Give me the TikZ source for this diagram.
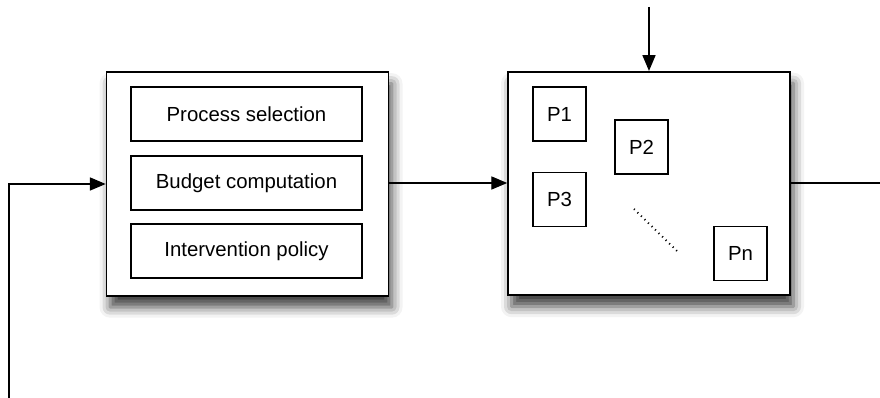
\documentclass[tikz,border=0pt]{standalone}
\usepackage{fontspec}
\setmainfont{Liberation Sans}
\usetikzlibrary{arrows.meta,shadows.blur}

\begin{document}
\begin{tikzpicture}[x=0.02cm, y=-0.02cm,
		bigbox/.style={draw, line width=1pt, fill=white, minimum width=5.64cm, minimum height=4.47cm,
			blur shadow={shadow xshift=2pt, shadow yshift=-6.5pt, shadow blur radius=6pt, shadow opacity=75}},
		partbox/.style={draw, line width=0.65pt, minimum width=4.62cm, minimum height=1.08cm, font=\fontsize{11.6}{13}\selectfont},
		procbox/.style={draw, line width=0.65pt, minimum width=1.06cm, minimum height=1.08cm, font=\fontsize{11.6}{13}\selectfont},
		conn/.style={line width=0.65pt},
		arr/.style={conn, -{Triangle[length=9pt, width=7.5pt]}}]
	\useasboundingbox (0,0) rectangle (880,398);

	% controller
	\node[bigbox] (ctrl) at (247.5,184) {};
	\node[partbox] (sel) at (246.5,114) {Process selection};
	\node[partbox] (bud) at (246.5,183) {Budget computation};
	\node[partbox] (pol) at (246.5,251) {Intervention policy};

	% system with processes
	\node[bigbox] (sys) at (649,183.5) {};
	\node[procbox] (p1) at (559.5,114) {P1};
	\node[procbox] (p2) at (641.5,147) {P2};
	\node[procbox] (p3) at (559.5,199.5) {P3};
	\node[procbox] (pn) at (740.5,253.5) {Pn};
	\coordinate (dotsA) at (634,209);
	\coordinate (dotsB) at (677,251);
	\draw[line width=1.1pt, dash pattern=on 0.6pt off 2.2pt] (dotsA) -- (dotsB);

	% connectors
	\coordinate (fbin) at (9,398);
	\coordinate (top) at (649,7);
	\coordinate (out) at (880,183);
	\draw[arr] (fbin) |- (ctrl.west);
	\draw[arr] (ctrl.east |- bud) -- (sys.west |- bud);
	\draw[arr] (top) -- (sys.north);
	\draw[conn] (sys.east |- out) -- (out);
\end{tikzpicture}
\end{document}
